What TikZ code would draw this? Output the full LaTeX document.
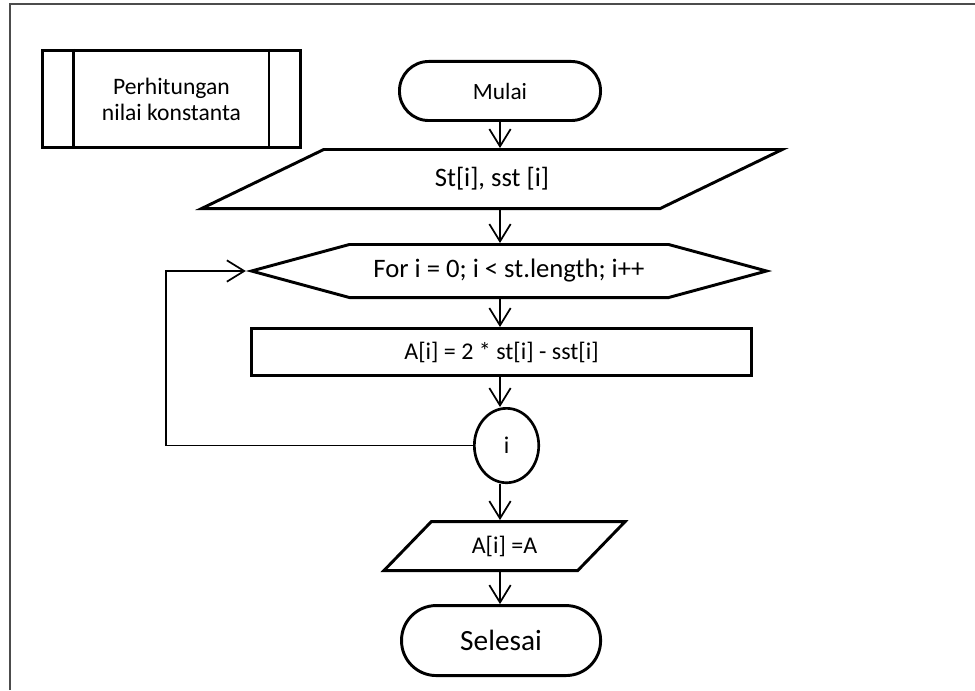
\documentclass[tikz,border=0pt]{standalone}
\usepackage{fontspec}
\setmainfont{Carlito}
\usetikzlibrary{arrows.meta, positioning, shapes.geometric, shapes.symbols}

\begin{document}
\begin{tikzpicture}[
    x=0.75pt, y=0.75pt,
    shp/.style={draw, line width=2.2pt, align=center, inner sep=2pt,
        font=\fontsize{18}{20}\selectfont},
    term/.style={shp, rectangle, rounded corners=#1},
    arr/.style={-{Straight Barb[length=13pt, width=16pt]}, line width=1.3pt}
]
    \useasboundingbox (0,0) rectangle (975,690);
    \draw[line width=1.2pt, black!70] (10,0) -- (10,686) -- (975,686);

    % subroutine box
    \node[shp, minimum width=193.5pt, minimum height=72.8pt,
        font=\fontsize{17.7}{19.5}\selectfont] (proc) at (171.5,591) {Perhitungan\\nilai konstanta};
    \draw[line width=2.2pt] ([xshift=24pt]proc.north west) -- ([xshift=24pt]proc.south west);
    \draw[line width=2.2pt] ([xshift=-24.75pt]proc.north east) -- ([xshift=-24.75pt]proc.south east);

    % main flow
    \node[term=22pt, minimum width=150.8pt, minimum height=44.3pt,
        font=\fontsize{17.5}{20}\selectfont] (mulai) at (500,599) {Mulai};
    \node[shp, trapezium, trapezium stretches=true, trapezium left angle=33,
        trapezium right angle=147, minimum width=436.5pt, minimum height=44.3pt,
        font=\fontsize{20}{22}\selectfont, below=19.5pt of mulai, xshift=-6pt] (input) {St[i], sst [i]};
    \node[shp, signal, signal to=east and west, signal pointer angle=30.3,
        minimum width=386.3pt, minimum height=39.8pt, font=\fontsize{20}{22}\selectfont,
        below=24.75pt of input, xshift=12.75pt] (ulang) {For i = 0; i < st.length; i++};
    \node[shp, minimum width=375pt, minimum height=35.3pt,
        below=21pt of ulang, xshift=-5.6pt] (hitung) {A[i] = 2 * st[i] - sst[i]};
    \node[shp, ellipse, line width=2pt, minimum width=48.3pt, minimum height=55.8pt,
        inner sep=0pt, below=22.5pt of hitung, xshift=3.75pt] (titik) {i};
    \node[shp, trapezium, trapezium stretches=true, trapezium left angle=48.5,
        trapezium right angle=131.5, minimum width=181.5pt, minimum height=36.8pt,
        below=27pt of titik, xshift=-1.5pt] (output) {A[i] =A};
    \node[term=26pt, minimum width=149.3pt, minimum height=52.5pt,
        font=\fontsize{22}{24}\selectfont, below=24pt of output, xshift=-2.6pt] (selesai) {Selesai};

    \draw[arr] (mulai.south) -- (input.north -| mulai);
    \draw[arr] (input.south -| mulai) -- (ulang.north -| mulai);
    \draw[arr] (ulang.south -| mulai) -- (hitung.north -| mulai);
    \draw[arr] (hitung.south -| mulai) -- (titik.north -| mulai);
    \draw[arr] (titik.south -| mulai) -- (output.north -| mulai);
    \draw[arr] (output.south -| mulai) -- (selesai.north -| mulai);
    \draw[arr] (titik.west) -- ++(-307,0) |- (ulang.west);
\end{tikzpicture}
\end{document}
